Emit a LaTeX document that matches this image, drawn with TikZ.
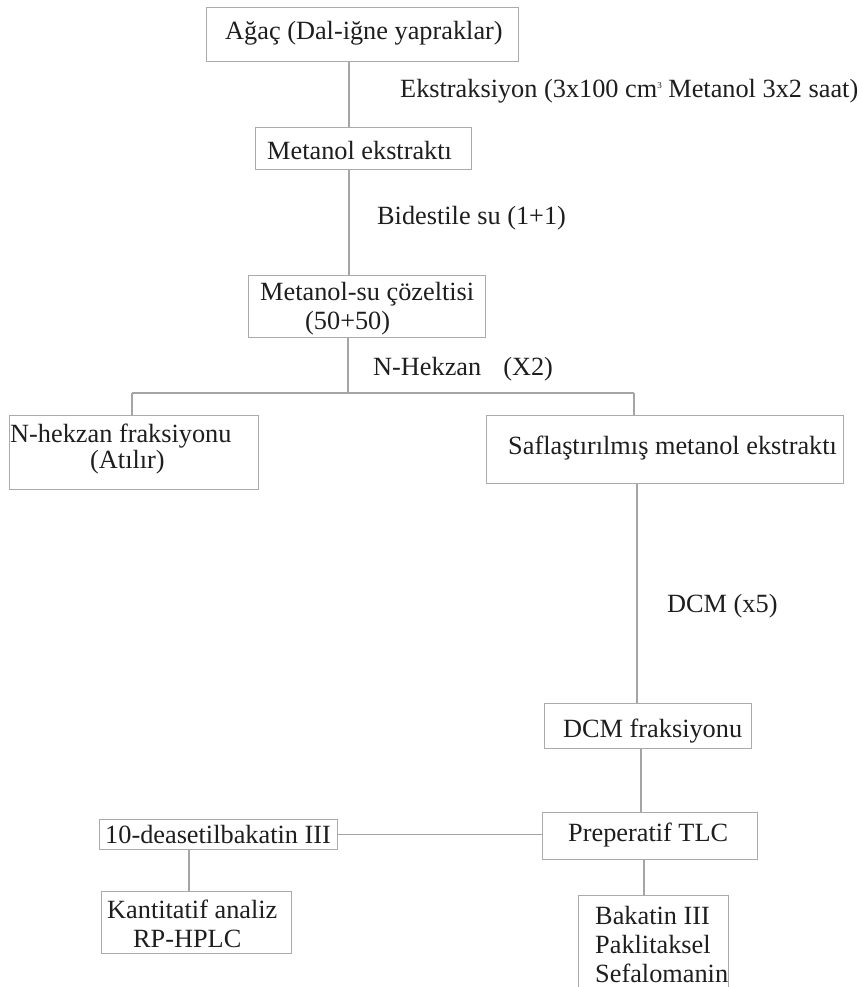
\documentclass[tikz,border=0pt]{standalone}
\usepackage{fontspec}
\setmainfont{Liberation Serif}
\definecolor{linegray}{RGB}{165,165,165}
\definecolor{boxgray}{RGB}{170,170,170}
\definecolor{txtcol}{RGB}{30,30,30}
\begin{document}
\begin{tikzpicture}[x=1pt,y=-1pt,
  box/.style={draw=boxgray,line width=1.3pt,inner sep=0pt,anchor=north west},
  conn/.style={draw=linegray,line width=1.3pt},
  txt/.style={anchor=base west,inner sep=0pt,text=txtcol,font=\fontsize{26.3}{30}\selectfont}]
\useasboundingbox (0,0) rectangle (862,987);
\clip (0,0) rectangle (862,987);
\fill[white] (0,0) rectangle (862,987);
% boxes
\node[box,minimum width=312pt,minimum height=54pt] (b1) at (206,7) {};
\node[box,minimum width=216pt,minimum height=42pt] (b2) at (255,127) {};
\node[box,minimum width=237pt,minimum height=62pt] (b3) at (248,275) {};
\node[box,minimum width=249pt,minimum height=74pt] (b4) at (9,415) {};
\node[box,minimum width=357pt,minimum height=68pt] (b5) at (486,415) {};
\node[box,minimum width=207pt,minimum height=45pt] (b6) at (544,703) {};
\node[box,minimum width=215pt,minimum height=47pt] (b7) at (542,812) {};
\node[box,minimum width=238pt,minimum height=30pt] (b8) at (99,819) {};
\node[box,minimum width=190pt,minimum height=62pt] (b9) at (101,891) {};
\node[box,minimum width=150pt,minimum height=130pt] (b10) at (578,895) {};
% texts
\node[txt] (t1) at (225,40) {Ağaç (Dal-iğne yapraklar)};
\node[txt] (l1) at (400,98) {Ekstraksiyon (3x100 cm\raisebox{9pt}{\fontsize{9}{9}\selectfont 3} Metanol 3x2 saat)};
\node[txt] (t2) at (267,160) {Metanol ekstraktı};
\node[txt] (l2) at (377,224) {Bidestile su (1+1)};
\node[txt] (t3a) at (260,300) {Metanol-su çözeltisi};
\node[txt] (t3b) at (305,329) {(50+50)};
\node[txt] (l3) at (373,375) {N-Hekzan\hspace{22pt}(X2)};
\node[txt] (t4a) at (10,442) {N-hekzan fraksiyonu};
\node[txt] (t4b) at (90,468) {(Atılır)};
\node[txt] (t5) at (508,454) {Saflaştırılmış metanol ekstraktı};
\node[txt] (l4) at (667,612) {DCM (x5)};
\node[txt] (t6) at (563,737) {DCM fraksiyonu};
\node[txt] (t7) at (568,841) {Preperatif TLC};
\node[txt] (t8) at (105,843) {10-deasetilbakatin III};
\node[txt] (t9a) at (107,918) {Kantitatif analiz};
\node[txt] (t9b) at (133,947) {RP-HPLC};
\node[txt] (t10a) at (595,924) {Bakatin III};
\node[txt] (t10b) at (595,953) {Paklitaksel};
\node[txt] (t10c) at (595,982) {Sefalomanin};
% connector helper coordinates
\coordinate (v1) at (349,0);
\coordinate (v2) at (349,0);
\coordinate (j) at (348,393);
\coordinate (jl) at (132,393);
\coordinate (jr) at (634,393);
\coordinate (v3) at (637,0);
\coordinate (v4) at (641,0);
\coordinate (v5) at (644,0);
\coordinate (v6) at (189,0);
% connectors
\draw[conn] (b1.south -| v1) -- (b2.north -| v1);
\draw[conn] (b2.south -| v2) -- (b3.north -| v2);
\draw[conn] (b3.south -| j) -- (j);
\draw[conn] (jl) -- (jr);
\draw[conn] (jl) -- (jl |- b4.north);
\draw[conn] (jr) -- (jr |- b5.north);
\draw[conn] (b5.south -| v3) -- (b6.north -| v3);
\draw[conn] (b6.south -| v4) -- (b7.north -| v4);
\draw[conn] (b7.south -| v5) -- (b10.north -| v5);
\draw[conn] (b8.east) -- (b7.west |- b8.east);
\draw[conn] (b8.south -| v6) -- (b9.north -| v6);
\end{tikzpicture}
\end{document}
